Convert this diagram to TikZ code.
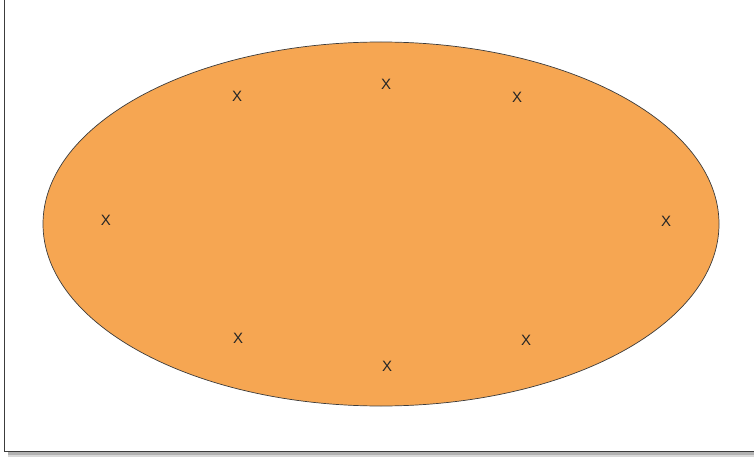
\documentclass[tikz,border=0pt]{standalone}
\usepackage{fontspec}
\setsansfont{Liberation Sans}
\usetikzlibrary{shapes.geometric}
\definecolor{FieldOrange}{RGB}{246,166,82}
\definecolor{EdgeGray}{RGB}{60,60,60}
\tikzset{
  field/.style     = {ellipse, draw=EdgeGray, line width=0.7pt, fill=FieldOrange,
                      minimum width=676pt, minimum height=364pt, inner sep=0pt},
  xmark/.style     = {font=\sffamily\fontsize{15}{15}\selectfont, text=black!85,
                      inner sep=0pt},
  frameline/.style = {draw=EdgeGray, line width=1.5pt}
}
\begin{document}
\begin{tikzpicture}[x=1pt, y=-1pt]
  \useasboundingbox (0,0) rectangle (754,457);

  % frame with shadow
  \fill[black!30] (8,452) rectangle (754,457);
  \fill[black!15] (8,455) rectangle (754,457);
  \coordinate (ftop) at (4.5,0);
  \coordinate (fcorner) at (4.5,451.5);
  \coordinate (fright) at (754,451.5);
  \draw[frameline] (ftop) -- (fcorner) -- (fright);

  \node[field] (oval) at (381,224) {};

  \node[xmark] (x1) at (237,96)  {X};
  \node[xmark] (x2) at (386,84)  {X};
  \node[xmark] (x3) at (517,97)  {X};
  \node[xmark] (x4) at (106,220) {X};
  \node[xmark] (x5) at (666,221) {X};
  \node[xmark] (x6) at (238,338) {X};
  \node[xmark] (x7) at (387,366) {X};
  \node[xmark] (x8) at (526,340) {X};

\end{tikzpicture}
\end{document}
